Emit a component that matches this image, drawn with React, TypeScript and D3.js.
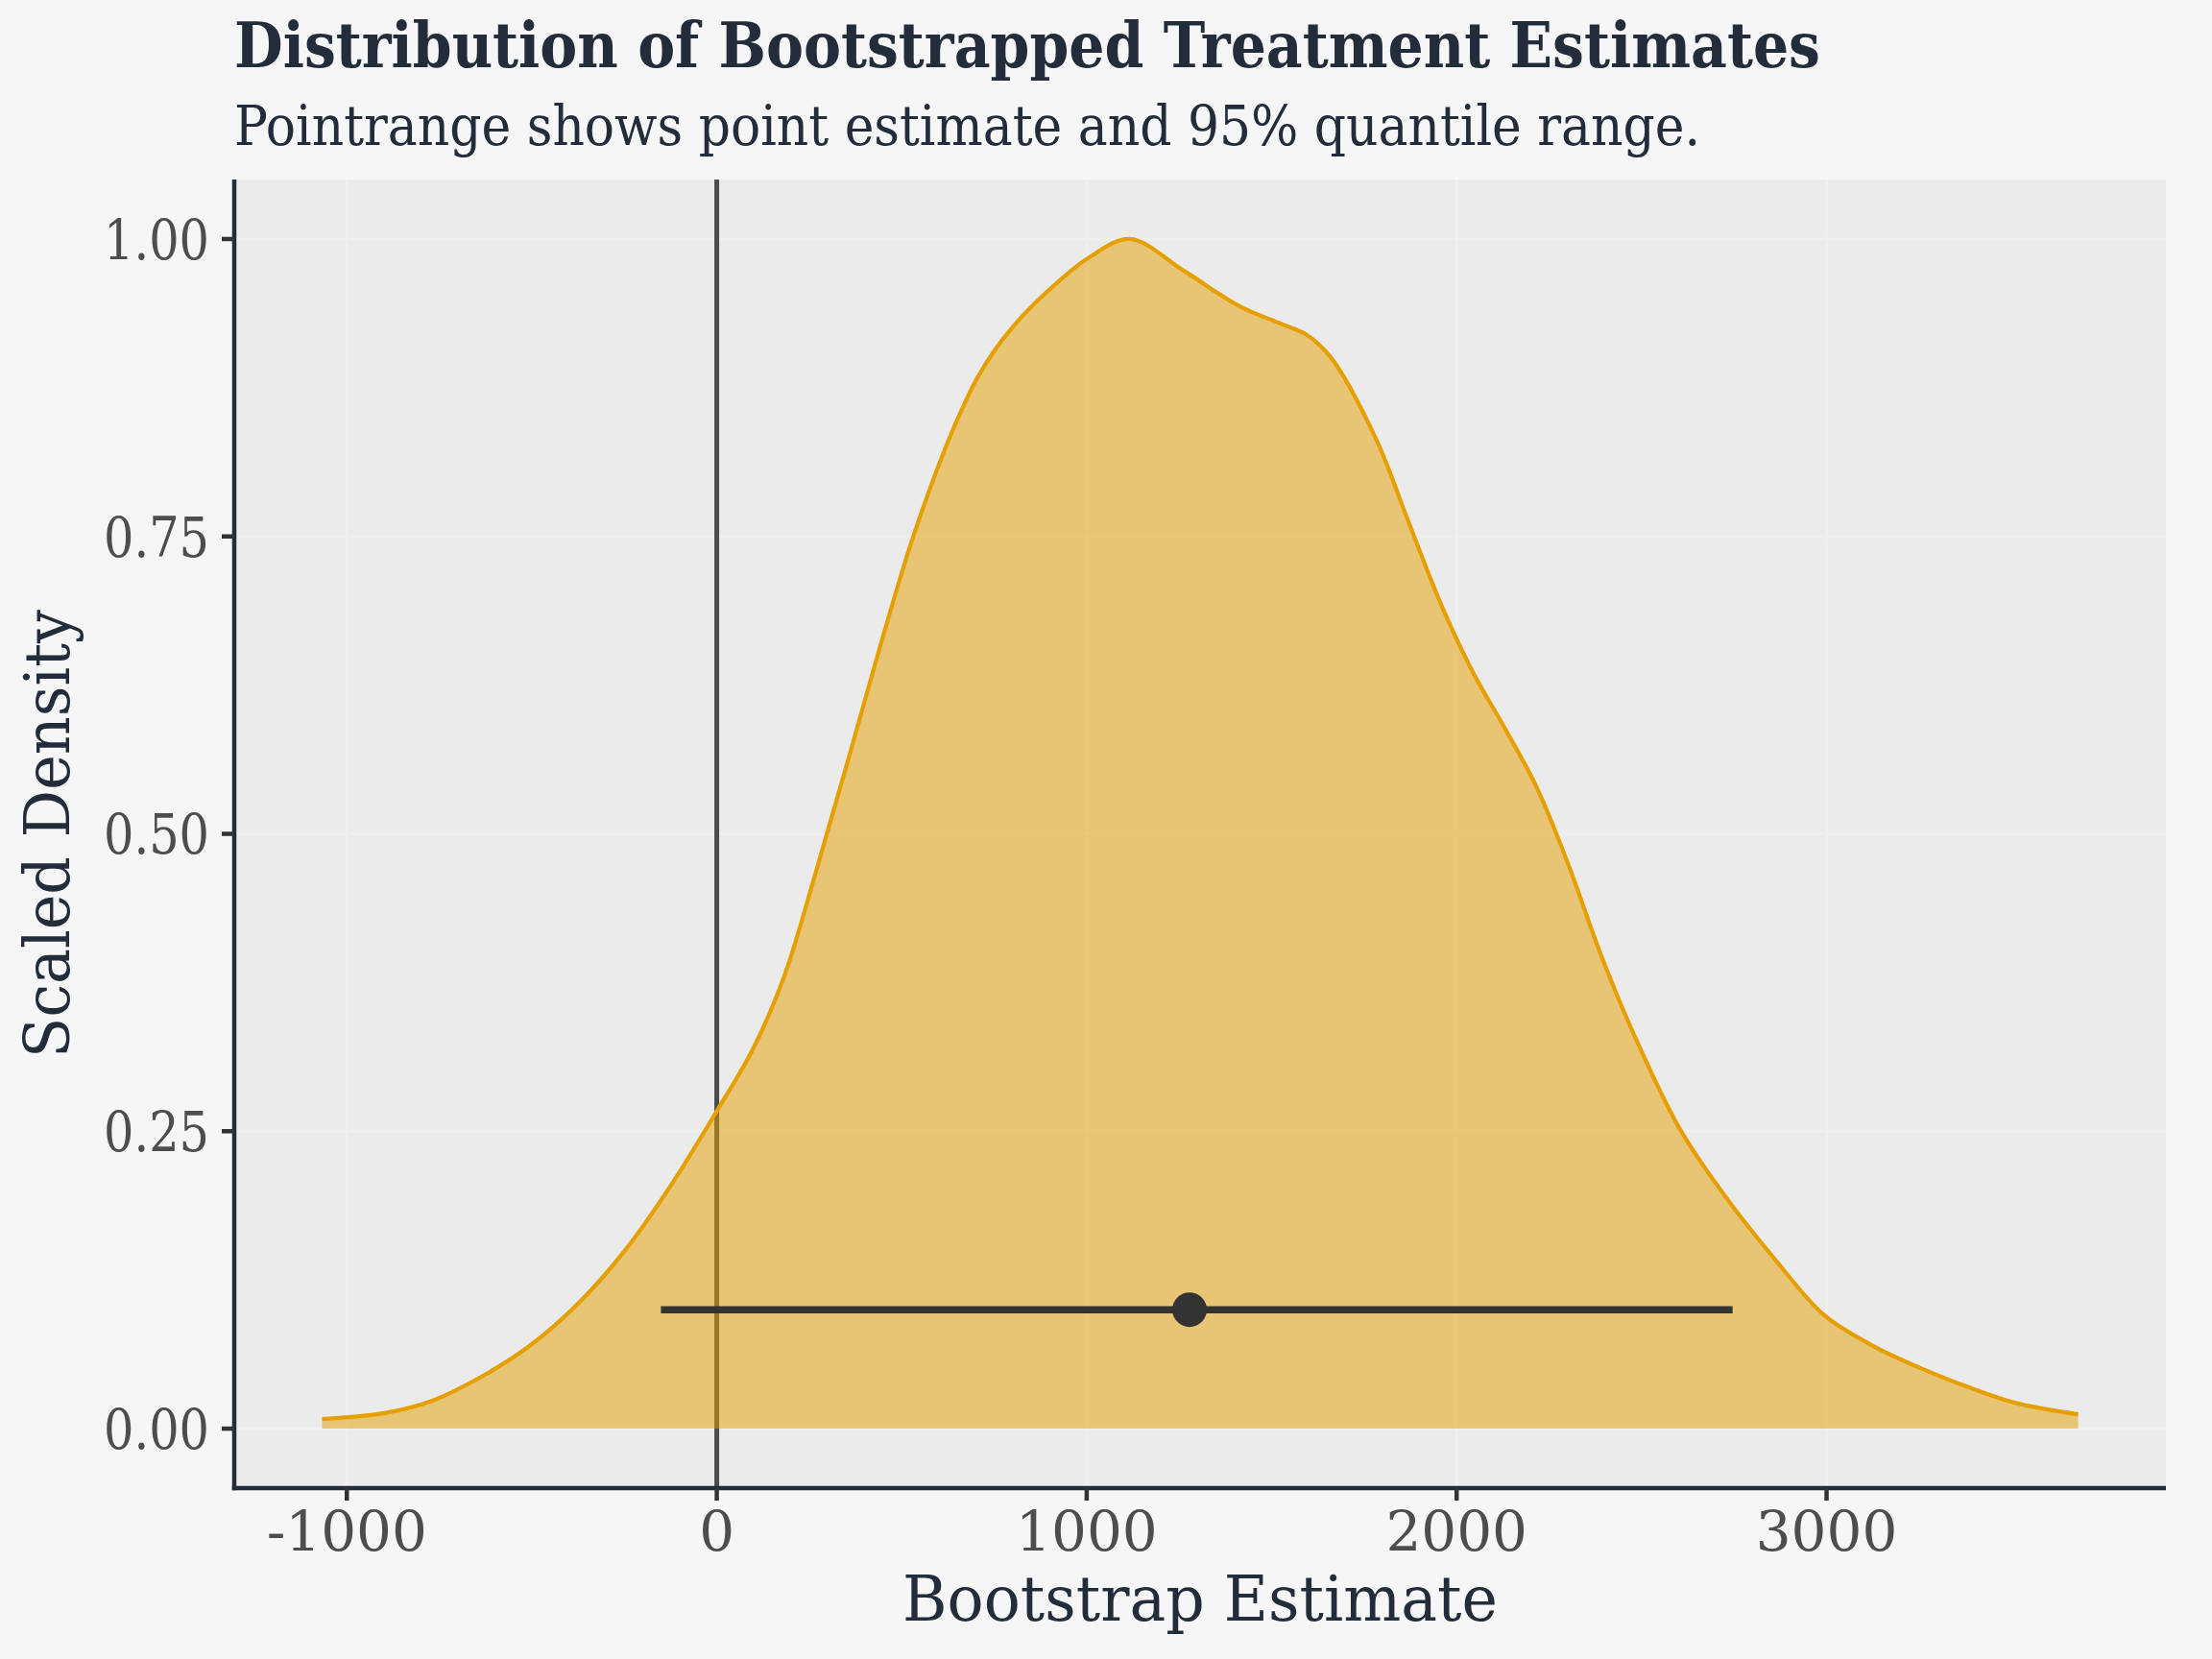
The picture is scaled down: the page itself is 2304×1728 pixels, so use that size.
import React from "react";
import * as d3 from "d3";

// ---- data ----
const estimateX = [
  -1067, -899, -769, -640, -510, -380, -250, -121, 0, 96, 182, 269, 355, 442, 528, 615,
  660, 700, 750, 800, 860, 930, 1004, 1116, 1264, 1410, 1523, 1592, 1661, 1782, 1869,
  1955, 2042, 2128, 2215, 2301, 2388, 2474, 2604, 2734, 2864, 2993, 3123, 3253, 3383,
  3512, 3680,
];
const scaledDensity = [
  0.008, 0.013, 0.0235, 0.043, 0.0686, 0.1035, 0.149, 0.206, 0.267, 0.318, 0.38, 0.469,
  0.562, 0.658, 0.747, 0.822, 0.855, 0.881, 0.906, 0.926, 0.946, 0.966, 0.984, 1.0,
  0.973, 0.944, 0.929, 0.92, 0.9, 0.832, 0.763, 0.695, 0.637, 0.59, 0.54, 0.475, 0.4,
  0.335, 0.2515, 0.192, 0.141, 0.0955, 0.07, 0.051, 0.035, 0.0215, 0.012,
];
const xTicks = [-1000, 0, 1000, 2000, 3000];
const yTicks = [0, 0.25, 0.5, 0.75, 1.0];
const yTickLabels = ["0.00", "0.25", "0.50", "0.75", "1.00"];
const pointEstimate = [1278];
const quantileLow = [-151];
const quantileHigh = [2746];
const pointRangeY = [0.1];
const referenceLine = [0];

const titleText = "Distribution of Bootstrapped Treatment Estimates";
const subtitleText = "Pointrange shows point estimate and 95% quantile range.";
const xTitle = "Bootstrap Estimate";
const yTitle = "Scaled Density";

const W = 2304;
const H = 1728;
const FONT = "'DejaVu Serif', serif";
const NAVY = "#232c3b";

export default function App() {
  const panel = { left: 244, right: 2256, top: 187, bottom: 1550 };
  const [x0, x1] = d3.extent(estimateX) as [number, number];
  const pad = (x1 - x0) * 0.05;
  const x = d3.scaleLinear().domain([x0 - pad, x1 + pad]).range([panel.left, panel.right]);
  const y = d3.scaleLinear().domain([-0.05, 1.05]).range([panel.bottom, panel.top]);

  const pts = estimateX.map((v, i) => [v, scaledDensity[i]] as [number, number]);
  const curve = d3.curveCatmullRom.alpha(0.5);
  const area = d3
    .area<[number, number]>()
    .x((d) => x(d[0]))
    .y0(() => y(0))
    .y1((d) => y(d[1]))
    .curve(curve);
  const line = d3
    .line<[number, number]>()
    .x((d) => x(d[0]))
    .y((d) => y(d[1]))
    .curve(curve);

  return (
    <svg
      width={W}
      height={H}
      style={{ position: "absolute", left: 0, top: 0, display: "block" }}
      xmlns="http://www.w3.org/2000/svg"
    >
      <rect x={0} y={0} width={W} height={H} fill="#f6f6f6" />
      {/* panel */}
      <rect
        x={panel.left}
        y={panel.top}
        width={panel.right - panel.left}
        height={panel.bottom - panel.top}
        fill="#ebebeb"
      />
      {/* grid */}
      {xTicks.map((t) => (
        <line key={"gx" + t} x1={x(t)} x2={x(t)} y1={panel.top} y2={panel.bottom} stroke="#efefef" strokeWidth={3} />
      ))}
      {yTicks.map((t) => (
        <line key={"gy" + t} x1={panel.left} x2={panel.right} y1={y(t)} y2={y(t)} stroke="#efefef" strokeWidth={3} />
      ))}
      {/* reference line */}
      {referenceLine.map((r) => (
        <line key={"ref" + r} x1={x(r)} x2={x(r)} y1={panel.top} y2={panel.bottom} stroke="#4a4a4a" strokeWidth={5} />
      ))}
      {/* density */}
      <path d={area(pts) || ""} fill="#e69f00" fillOpacity={0.5} />
      <path d={line(pts) || ""} fill="none" stroke="#e69f00" strokeWidth={4.2} />
      {/* pointrange */}
      {pointEstimate.map((p, i) => (
        <g key={"pr" + i}>
          <line
            x1={x(quantileLow[i])}
            x2={x(quantileHigh[i])}
            y1={y(pointRangeY[i])}
            y2={y(pointRangeY[i])}
            stroke="#333333"
            strokeWidth={7.5}
          />
          <circle cx={x(p)} cy={y(pointRangeY[i])} r={18} fill="#333333" />
        </g>
      ))}
      {/* axes */}
      <line x1={panel.left} x2={panel.left} y1={panel.top} y2={panel.bottom + 2.25} stroke={NAVY} strokeWidth={4.5} />
      <line x1={panel.left - 2.25} x2={panel.right} y1={panel.bottom} y2={panel.bottom} stroke={NAVY} strokeWidth={4.5} />
      {yTicks.map((t, i) => (
        <g key={"yt" + t}>
          <line x1={panel.left - 13} x2={panel.left} y1={y(t)} y2={y(t)} stroke="#333333" strokeWidth={4.5} />
          <text
            x={panel.left - 26}
            y={y(t)}
            dy="0.36em"
            textAnchor="end"
            fontFamily={FONT}
            fontSize={58}
            fill="#4d4d4d"
            textLength={110}
            lengthAdjust="spacingAndGlyphs"
          >
            {yTickLabels[i]}
          </text>
        </g>
      ))}
      {xTicks.map((t) => (
        <g key={"xt" + t}>
          <line x1={x(t)} x2={x(t)} y1={panel.bottom} y2={panel.bottom + 13} stroke="#333333" strokeWidth={4.5} />
          <text
            x={x(t)}
            y={1615}
            textAnchor="middle"
            fontFamily={FONT}
            fontSize={58}
            fill="#4d4d4d"
          >
            {t}
          </text>
        </g>
      ))}
      {/* titles */}
      <text
        x={244}
        y={70}
        fontFamily={FONT}
        fontWeight="bold"
        fontSize={65}
        fill={NAVY}
        textLength={1652}
        lengthAdjust="spacingAndGlyphs"
      >
        {titleText}
      </text>
      <text
        x={244}
        y={151}
        fontFamily={FONT}
        fontSize={57}
        fill={NAVY}
        textLength={1527}
        lengthAdjust="spacingAndGlyphs"
      >
        {subtitleText}
      </text>
      <text
        x={(panel.left + panel.right) / 2}
        y={1688}
        textAnchor="middle"
        fontFamily={FONT}
        fontSize={66}
        fill={NAVY}
        textLength={620}
        lengthAdjust="spacingAndGlyphs"
      >
        {xTitle}
      </text>
      <text
        transform={`translate(72, ${(panel.top + panel.bottom) / 2}) rotate(-90)`}
        textAnchor="middle"
        fontFamily={FONT}
        fontSize={66}
        fill={NAVY}
        textLength={467}
        lengthAdjust="spacingAndGlyphs"
      >
        {yTitle}
      </text>
    </svg>
  );
}
